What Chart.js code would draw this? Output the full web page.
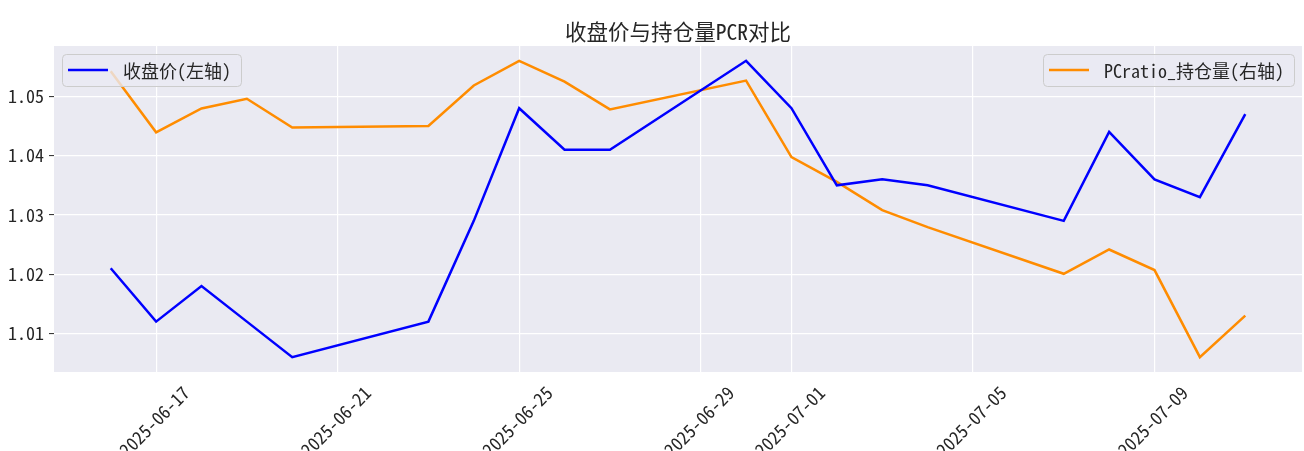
<!DOCTYPE html>
<html><head><meta charset="utf-8">
<script src="https://cdn.jsdelivr.net/npm/chart.js@4.4.1/dist/chart.umd.min.js"></script>
<style>html,body{margin:0;padding:0;background:#fff;} #wrap{width:1304px;height:451px;position:relative;overflow:hidden;}</style>
</head><body><div id="wrap"><canvas id="c" width="1304" height="451"></canvas></div>
<script>
const dates = ['2025-06-16','2025-06-17','2025-06-18','2025-06-19','2025-06-20','2025-06-23','2025-06-24','2025-06-25','2025-06-26','2025-06-27','2025-06-30','2025-07-01','2025-07-02','2025-07-03','2025-07-04','2025-07-07','2025-07-08','2025-07-09','2025-07-10','2025-07-11'];
const closePrice = [1.021,1.012,1.018,1.012,1.006,1.012,1.029,1.048,1.041,1.041,1.056,1.048,1.035,1.036,1.035,1.029,1.044,1.036,1.033,1.047];
const pcrOI = [0.9447,0.9138,0.9259,0.9308,0.9162,0.9170,0.9375,0.9500,0.9395,0.9254,0.9400,0.9013,0.8887,0.8744,0.8658,0.8422,0.8545,0.8441,0.8000,0.8210];
const xTickDates = ['2025-06-17','2025-06-21','2025-06-25','2025-06-29','2025-07-01','2025-07-05','2025-07-09'];
const leftTicks = [1.01,1.02,1.03,1.04,1.05];
const titleText = '收盘价与持仓量PCR对比';
const closeLabel = '收盘价(左轴)';
const pcrLabel = 'PCratio_持仓量(右轴)';

const FONT = '"Noto Sans Mono CJK SC","Noto Sans CJK SC","DejaVu Sans Mono",monospace';
const TXT = '#262626';
const dayNum = d => Date.UTC(+d.slice(0,4), +d.slice(5,7)-1, +d.slice(8,10)) / 86400000;
const fmtDay = v => new Date(Math.round(v) * 86400000).toISOString().slice(0,10);

const xs = dates.map(dayNum);
const xSpan = xs[xs.length-1] - xs[0];
const lMin = Math.min(...closePrice), lMax = Math.max(...closePrice);
const rMin = Math.min(...pcrOI), rMax = Math.max(...pcrOI);

const bgPlugin = {
  id: 'bg',
  beforeDraw(chart) {
    const {ctx, chartArea: a} = chart;
    ctx.save(); ctx.fillStyle = '#EAEAF2';
    ctx.fillRect(a.left, a.top, a.right - a.left, a.bottom - a.top);
    ctx.restore();
  }
};

const titlePlugin = {
  id: 'axTitle',
  afterDraw(chart) {
    const {ctx, chartArea: a} = chart;
    ctx.save();
    ctx.font = '21.5px ' + FONT;
    ctx.fillStyle = TXT; ctx.textAlign = 'center'; ctx.textBaseline = 'middle';
    ctx.fillText(titleText, (a.left + a.right) / 2, a.top - 14);
    ctx.restore();
  }
};

function drawLegendBox(ctx, x, y, color, text, alignRight) {
  ctx.save();
  ctx.font = '18px ' + FONT;
  const tw = ctx.measureText(text).width;
  const w = 6 + 40 + 15 + tw + 10, h = 32;
  const bx = alignRight ? x - w : x;
  ctx.beginPath();
  if (ctx.roundRect) ctx.roundRect(bx + 0.5, y + 0.5, w, h, 4); else ctx.rect(bx + 0.5, y + 0.5, w, h);
  ctx.fillStyle = 'rgba(234,234,242,0.8)'; ctx.fill();
  ctx.strokeStyle = '#CCCCCC'; ctx.lineWidth = 1; ctx.stroke();
  ctx.beginPath();
  ctx.moveTo(bx + 6, y + 16); ctx.lineTo(bx + 46, y + 16);
  ctx.strokeStyle = color; ctx.lineWidth = 2.5; ctx.stroke();
  ctx.fillStyle = TXT; ctx.textBaseline = 'middle'; ctx.textAlign = 'left';
  ctx.fillText(text, bx + 61, y + 17);
  ctx.restore();
}

const legendPlugin = {
  id: 'dualLegend',
  afterDatasetsDraw(chart) {
    const {ctx, chartArea: a} = chart;
    const ds = chart.data.datasets;
    drawLegendBox(ctx, a.left + 8, a.top + 8, ds[0].borderColor, ds[0].label, false);
    drawLegendBox(ctx, a.right - 8, a.top + 8, ds[1].borderColor, ds[1].label, true);
  }
};

new Chart(document.getElementById('c'), {
  type: 'line',
  data: {
    datasets: [
      { label: closeLabel, data: xs.map((x,i) => ({x, y: closePrice[i]})), borderColor: '#0000FF', borderWidth: 2.5, pointRadius: 0, tension: 0, yAxisID: 'y', fill: false },
      { label: pcrLabel, data: xs.map((x,i) => ({x, y: pcrOI[i]})), borderColor: '#FF8C00', borderWidth: 2.5, pointRadius: 0, tension: 0, yAxisID: 'y1', fill: false }
    ]
  },
  options: {
    responsive: false, animation: false, devicePixelRatio: 1,
    layout: { padding: { left: 0, right: 2, top: 46, bottom: 0 } },
    plugins: {
      legend: { display: false }, tooltip: { enabled: false }, title: { display: false }
    },
    scales: {
      x: {
        type: 'linear', min: xs[0] - 0.05 * xSpan, max: xs[xs.length-1] + 0.05 * xSpan,
        afterBuildTicks: s => { s.ticks = xTickDates.map(d => ({ value: dayNum(d) })); },
        afterFit: s => { s.height = 79; },
        ticks: { autoSkip: false, minRotation: 45, maxRotation: 45, labelOffset: 30, padding: 10, color: TXT, font: { family: FONT, size: 18 }, callback: v => fmtDay(v) },
        grid: { color: '#FFFFFF', lineWidth: 1.2, drawTicks: false },
        border: { display: false }
      },
      y: {
        position: 'left', min: lMin - 0.05 * (lMax - lMin), max: lMax + 0.05 * (lMax - lMin),
        afterBuildTicks: s => { s.ticks = leftTicks.map(v => ({ value: v })); },
        afterFit: s => { s.width = 54; },
        ticks: { padding: 5, color: TXT, font: { family: FONT, size: 18 }, callback: v => v.toFixed(2) },
        grid: { color: '#FFFFFF', lineWidth: 1.2, tickColor: TXT, tickLength: 5, tickWidth: 1 },
        border: { display: false }
      },
      y1: {
        position: 'right', display: false,
        min: rMin - 0.05 * (rMax - rMin), max: rMax + 0.05 * (rMax - rMin),
        grid: { drawOnChartArea: false }
      }
    }
  },
  plugins: [bgPlugin, titlePlugin, legendPlugin]
});
</script></body></html>
